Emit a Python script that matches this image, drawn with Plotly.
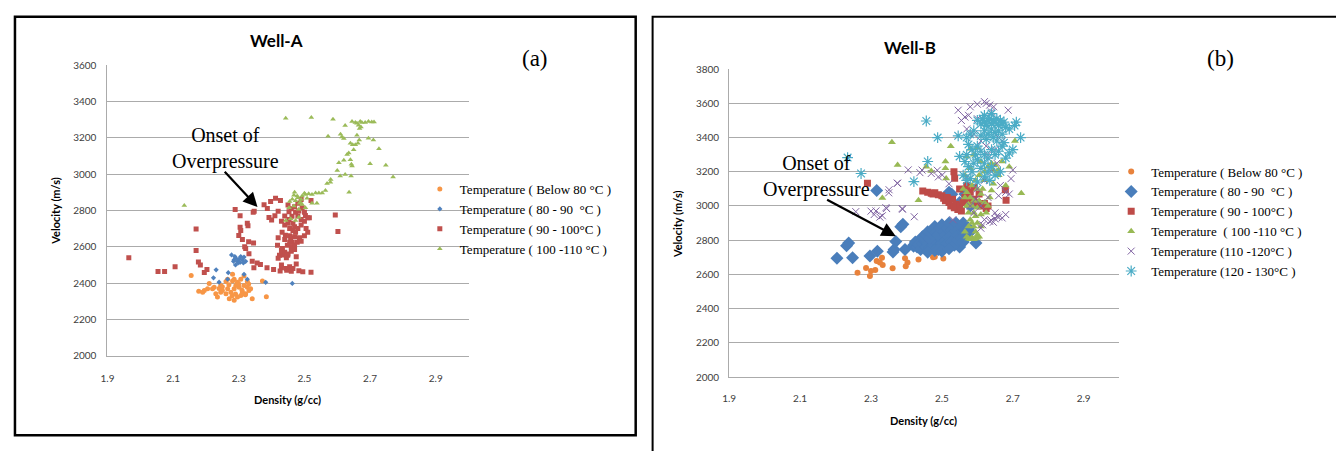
import plotly.graph_objects as go

W, H = 1336, 451

# ---------------- DATA ----------------
x_ticks = [1.9, 2.1, 2.3, 2.5, 2.7, 2.9]
x_tick_text = ["1.9", "2.1", "2.3", "2.5", "2.7", "2.9"]
ya_ticks = [2000, 2200, 2400, 2600, 2800, 3000, 3200, 3400, 3600]
yb_ticks = [2000, 2200, 2400, 2600, 2800, 3000, 3200, 3400, 3600, 3800]

legend_a = ["Temperature ( Below 80 °C )", "Temperature ( 80 - 90  °C )",
            "Temperature ( 90 - 100°C )", "Temperature ( 100 -110 °C )"]
legend_b = ["Temperature ( Below 80 °C )", "Temperature ( 80 - 90  °C )",
            "Temperature ( 90 - 100°C )", "Temperature  ( 100 -110 °C )",
            "Temperature (110 -120°C )", "Temperature (120 - 130°C )"]

# Well-A
a_t80_x = [2.155, 2.21, 2.178, 2.19, 2.205, 2.225, 2.235, 2.23, 2.245, 2.261, 2.266, 2.281, 2.286, 2.296,
           2.306, 2.316, 2.326, 2.331, 2.336, 2.321, 2.306, 2.296, 2.286, 2.271, 2.261, 2.276, 2.266, 2.25,
           2.286, 2.301, 2.311, 2.341, 2.384, 2.372, 2.281, 2.291, 2.316, 2.326, 2.245, 2.22, 2.195, 2.24,
           2.25, 2.3, 2.31, 2.27, 2.29, 2.32, 2.33, 2.28]
a_t80_y = [2441, 2398, 2355, 2350, 2368, 2377, 2323, 2341, 2386, 2409, 2421, 2448, 2421, 2405,
           2421, 2386, 2377, 2359, 2368, 2341, 2332, 2323, 2305, 2314, 2341, 2350, 2368, 2359,
           2368, 2377, 2350, 2314, 2325, 2412, 2412, 2386, 2439, 2409, 2350, 2368, 2359, 2370,
           2380, 2395, 2360, 2390, 2340, 2335, 2395, 2330]

a_t90_x = [2.278, 2.286, 2.291, 2.296, 2.301, 2.306, 2.311, 2.316, 2.298, 2.304, 2.321, 2.284, 2.288,
           2.314, 2.231, 2.223, 2.268, 2.316, 2.326, 2.382, 2.463, 2.266, 2.24, 2.29]
a_t90_y = [2555, 2529, 2537, 2520, 2532, 2546, 2529, 2543, 2511, 2514, 2520, 2520, 2546,
           2511, 2473, 2429, 2457, 2448, 2421, 2404, 2398, 2421, 2405, 2500]

a_t100_x = [1.965, 2.054, 2.074, 2.106, 2.170, 2.170, 2.177, 2.183, 2.203, 2.195,
            2.289, 2.304, 2.304, 2.306, 2.326, 2.328, 2.300, 2.311, 2.330, 2.345,
            2.344, 2.318, 2.321, 2.331, 2.341, 2.356, 2.346, 2.366, 2.386, 2.406,
            2.426, 2.446, 2.483, 2.430, 2.420, 2.435,
            2.377, 2.387, 2.397, 2.412, 2.427, 2.453, 2.347, 2.392, 2.400, 2.410, 2.420,
            2.440, 2.453, 2.462, 2.473, 2.483, 2.493, 2.503,
            2.432, 2.442, 2.458, 2.473, 2.418, 2.433, 2.448, 2.463, 2.478,
            2.424, 2.449, 2.594, 2.602,
            2.43, 2.44, 2.45, 2.465, 2.47, 2.48, 2.49, 2.50, 2.51, 2.505,
            2.42, 2.44, 2.455, 2.47, 2.485, 2.50, 2.49, 2.46,
            2.43, 2.44, 2.45, 2.445, 2.46, 2.47, 2.475,
            2.43, 2.445, 2.455, 2.46, 2.495, 2.465, 2.475,
            2.49, 2.45, 2.46, 2.47, 2.48, 2.52, 2.515, 2.50, 2.51, 2.52, 2.48, 2.49, 2.455, 2.465, 2.455, 2.47]
a_t100_y = [2540, 2463, 2463, 2490, 2698, 2580, 2516, 2500, 2475, 2458,
            2805, 2771, 2707, 2690, 2729, 2716, 2662, 2640, 2627, 2621,
            2790, 2600, 2590, 2562, 2520, 2510, 2484, 2502, 2484, 2475,
            2466, 2470, 2468, 2484, 2536, 2554,
            2832, 2811, 2850, 2867, 2855, 2793, 2796, 2761, 2748, 2771, 2795,
            2770, 2750, 2768, 2790, 2797, 2815, 2772,
            2680, 2663, 2645, 2680, 2608, 2590, 2608, 2625, 2625,
            2553, 2553, 2775, 2684,
            2740, 2720, 2730, 2730, 2710, 2700, 2720, 2740, 2760, 2700,
            2650, 2640, 2660, 2655, 2650, 2660, 2630, 2600,
            2580, 2570, 2560, 2540, 2575, 2585, 2545,
            2500, 2480, 2490, 2465, 2462, 2480, 2505,
            2860, 2830, 2810, 2820, 2840, 2855, 2760, 2790, 2680, 2460, 2770, 2750, 2700, 2690, 2625, 2610]

a_t110_x = [2.134, 2.443, 2.521, 2.587, 2.624, 2.572,
            2.645, 2.655, 2.66, 2.67, 2.675, 2.685, 2.695, 2.705, 2.712, 2.665, 2.672, 2.668,
            2.61, 2.614, 2.62, 2.66, 2.667, 2.695, 2.71, 2.727,
            2.64, 2.647, 2.655, 2.663, 2.65, 2.635, 2.63, 2.64, 2.643, 2.645, 2.62, 2.605, 2.70, 2.748, 2.77, 2.636,
            2.58, 2.569, 2.579, 2.60, 2.609, 2.624, 2.642,
            2.564, 2.554, 2.544, 2.534, 2.523, 2.513, 2.503, 2.493, 2.478, 2.468, 2.463, 2.473, 2.488, 2.508, 2.523, 2.538,
            2.443, 2.458, 2.473, 2.483, 2.453, 2.468, 2.483, 2.493, 2.503,
            2.48, 2.49, 2.50, 2.47, 2.455, 2.485]
a_t110_y = [2828, 3308, 3312, 3303, 3268, 3209,
            3290, 3285, 3280, 3290, 3285, 3285, 3290, 3288, 3288, 3270, 3260, 3252,
            3220, 3205, 3196, 3214, 3188, 3198, 3188, 3140,
            3170, 3162, 3162, 3170, 3134, 3116, 3108, 3080, 3054, 3045, 3077, 3063, 3058, 3049, 2985, 2901,
            2970, 2948, 2956, 3020, 2990, 2998, 2990,
            2910, 2896, 2896, 2896, 2888, 2892, 2888, 2880, 2880, 2884, 2862, 2853, 2844, 2867, 2840, 2840,
            2745, 2754, 2745, 2763, 2815, 2824, 2806, 2833, 2815,
            2870, 2860, 2895, 2900, 2850, 2840]

# Well-B
b_t80_x = [2.262, 2.286, 2.297, 2.312, 2.316, 2.331, 2.333, 2.361, 2.396, 2.403, 2.398, 2.434,
           2.475, 2.48, 2.504, 2.30, 2.325]
b_t80_y = [2609, 2638, 2590, 2626, 2679, 2698, 2655, 2636, 2695, 2670, 2647, 2687,
           2700, 2703, 2693, 2620, 2670]

b_t90_x = [2.204, 2.237, 2.231, 2.248, 2.297, 2.318, 2.316, 2.365, 2.362, 2.37, 2.384, 2.39, 2.396,
           2.42, 2.43, 2.44, 2.528, 2.52, 2.596, 2.55,
           2.42, 2.425, 2.43, 2.435, 2.44, 2.445, 2.45, 2.455, 2.46, 2.465, 2.47, 2.475, 2.48, 2.485,
           2.49, 2.495, 2.50, 2.445, 2.455, 2.46, 2.465, 2.47, 2.475, 2.48, 2.485, 2.49, 2.495, 2.50,
           2.505, 2.51, 2.515, 2.52, 2.525, 2.53, 2.535, 2.54, 2.545, 2.55, 2.555, 2.56, 2.565, 2.57,
           2.51, 2.52, 2.53, 2.54, 2.505, 2.515, 2.525, 2.535, 2.545, 2.555, 2.48, 2.49, 2.46, 2.50,
           2.52, 2.56, 2.575, 2.58, 2.58, 2.55, 2.565]
b_t90_y = [2695, 2784, 2768, 2698, 2708, 2736, 3090, 2746, 2731, 2793, 2878, 2893, 2746,
           2765, 2785, 2800, 3069, 3080, 2784, 2760,
           2770, 2790, 2760, 2775, 2745, 2780, 2800, 2760, 2780, 2750, 2800, 2770, 2820, 2790,
           2760, 2810, 2780, 2820, 2830, 2850, 2810, 2840, 2860, 2880, 2850, 2830, 2870, 2890,
           2850, 2830, 2870, 2900, 2860, 2840, 2880, 2900, 2860, 2840, 2880, 2900, 2860, 2830,
           2800, 2820, 2800, 2820, 2760, 2780, 2790, 2770, 2800, 2810, 2740, 2745, 2730, 2735,
           2750, 2790, 2870, 2850, 3000, 3020, 3070]

b_t100_x = [2.29, 2.446, 2.46, 2.47, 2.475, 2.48, 2.49, 2.50, 2.505, 2.51, 2.515, 2.52, 2.525, 2.53,
            2.535, 2.54, 2.545, 2.55, 2.555, 2.56, 2.565, 2.57, 2.575, 2.58, 2.59, 2.60, 2.61, 2.62,
            2.63, 2.625, 2.534, 2.536, 2.679, 2.681, 2.55, 2.57, 2.59, 2.605]
b_t100_y = [3133, 3088, 3080, 3075, 3070, 3078, 3065, 3060, 3045, 3030, 3050, 3020, 3000, 3040,
            2990, 3010, 2980, 3000, 2970, 3020, 3050, 3060, 3030, 3080, 3040, 3020, 3000, 3015,
            3000, 2985, 3200, 3162, 3095, 3034, 3100, 3120, 3110, 3070]

b_t110_x = [2.359, 2.375, 2.332, 2.434, 2.456, 2.47, 2.51, 2.51, 2.512, 2.525, 2.581, 2.706, 2.724,
            2.68, 2.69, 2.67, 2.66,
            2.56, 2.565, 2.57, 2.575, 2.58, 2.585, 2.59, 2.595, 2.60, 2.57, 2.575, 2.58, 2.585, 2.59,
            2.595, 2.60, 2.605, 2.58, 2.585, 2.59, 2.595, 2.60, 2.605, 2.61, 2.615, 2.62, 2.625, 2.63,
            2.635, 2.64, 2.645, 2.60, 2.61, 2.575, 2.565, 2.57, 2.585, 2.595, 2.605, 2.62, 2.63, 2.64,
            2.645, 2.65, 2.655, 2.66, 2.59, 2.60, 2.57, 2.61, 2.58, 2.565, 2.62, 2.61, 2.59, 2.575, 2.6]
b_t110_y = [3372, 3240, 3047, 3034, 3230, 3205, 3260, 3220, 3160, 3350, 3335, 3380, 3075,
            3120, 3230, 3260, 3210,
            3100, 3050, 3000, 2960, 2920, 2900, 2880, 2850, 2830, 2820, 2810, 2805, 2815, 2805,
            2810, 2815, 2820, 3050, 3000, 2960, 2940, 2990, 3030, 3070, 3100, 3020, 2960, 3000,
            3050, 3090, 3130, 2900, 2880, 2880, 2850, 3080, 3120, 3150, 3180, 3200, 3230, 3250,
            3210, 3240, 3200, 3180, 3300, 3340, 3290, 3260, 3220, 3180, 3150, 2950, 3030, 3010, 3100]

b_t120_x = [2.257, 2.30, 2.309, 2.325, 2.344, 2.35, 2.375, 2.388, 2.422, 2.405, 2.438, 2.444, 2.47,
            2.49, 2.52, 2.531, 2.546, 2.555, 2.58, 2.60, 2.62, 2.625, 2.635, 2.646, 2.687, 2.70,
            2.695, 2.69, 2.65, 2.655, 2.62, 2.635, 2.61, 2.615, 2.64, 2.645, 2.65, 2.66, 2.67, 2.68,
            2.314, 2.332, 2.342, 2.351, 2.374, 2.389, 2.487, 2.501, 2.57, 2.59, 2.61, 2.625, 2.63,
            2.65, 2.66, 2.67, 2.655, 2.64, 2.62, 2.60, 2.595, 2.61, 2.63, 2.665, 2.68, 2.66, 2.575,
            2.565, 2.6, 2.64, 2.655, 2.58, 2.59, 2.57]
b_t120_y = [2967, 2970, 2950, 2935, 2985, 3077, 3133, 2985, 2937, 3211, 3195, 3210, 3190,
            3170, 3130, 2920, 3560, 3500, 3580, 3595, 3610, 3600, 3590, 3580, 3560, 3210,
            3160, 3070, 2960, 2940, 2920, 2910, 2870, 2890, 2915, 2905, 2925, 2935, 2930, 2950,
            2971, 2943, 2990, 3095, 3133, 2981, 3209, 3181, 3450, 3420, 3380, 3350, 3300,
            3330, 3400, 3380, 3250, 3200, 3150, 3100, 3040, 3000, 3050, 3120, 3080, 3060, 3530,
            3520, 3510, 3550, 3480, 3000, 2960, 3170]

b_t130_x = [2.234, 2.272, 2.421, 2.456, 2.46, 2.488, 2.55, 2.546, 2.71, 2.705, 2.722, 2.70, 2.69,
            2.60, 2.61, 2.615, 2.62, 2.625, 2.63, 2.635, 2.64, 2.645, 2.65, 2.655, 2.66, 2.665, 2.67,
            2.675, 2.68, 2.62, 2.63, 2.64, 2.65, 2.66, 2.67, 2.61, 2.625, 2.645, 2.655, 2.67, 2.59,
            2.58, 2.57, 2.575, 2.585, 2.595, 2.60, 2.61, 2.62, 2.63, 2.64, 2.65, 2.66, 2.57, 2.565,
            2.575, 2.585, 2.59, 2.60, 2.61, 2.62, 2.63, 2.64, 2.65, 2.56, 2.57, 2.58, 2.60, 2.62,
            2.635, 2.665, 2.68, 2.675, 2.69, 2.62, 2.64]
b_t130_y = [3283, 3190, 3143, 3497, 3260, 3400, 3290, 3410, 3490, 3470, 3400, 3330, 3310,
            3500, 3480, 3510, 3490, 3470, 3500, 3510, 3480, 3500, 3490, 3510, 3470, 3500, 3480,
            3490, 3460, 3440, 3420, 3450, 3430, 3440, 3420, 3410, 3390, 3400, 3380, 3350, 3440,
            3420, 3400, 3360, 3330, 3300, 3350, 3320, 3300, 3280, 3330, 3300, 3320, 3300, 3260,
            3230, 3200, 3250, 3270, 3220, 3250, 3200, 3230, 3180, 3180, 3150, 3160, 3140, 3170,
            3150, 3200, 3280, 3370, 3450, 3530, 3540]

# ---------------- FIGURE ----------------
def px(x):
    return x / W


def py(y):
    return 1 - y / H


fig = go.Figure()

orange_a, blue_a, red_a, green_a = "#F79646", "#4F81BD", "#C0504D", "#9BBB59"
a_series = [
    (a_t80_x, a_t80_y, legend_a[0], dict(symbol="circle", size=5, color=orange_a)),
    (a_t90_x, a_t90_y, legend_a[1], dict(symbol="diamond", size=4, color=blue_a)),
    (a_t100_x, a_t100_y, legend_a[2], dict(symbol="square", size=5, color=red_a)),
    (a_t110_x, a_t110_y, legend_a[3], dict(symbol="triangle-up", size=5, color=green_a)),
]
for xs, ys, name, mk in a_series:
    fig.add_trace(go.Scatter(x=xs, y=ys, mode="markers", name=name, marker=mk,
                             xaxis="x", yaxis="y", legend="legend"))

b_series = [
    (b_t80_x, b_t80_y, legend_b[0], dict(symbol="circle", size=6, color="#E8823C")),
    (b_t90_x, b_t90_y, legend_b[1], dict(symbol="diamond", size=10, color="#4A7EBB")),
    (b_t100_x, b_t100_y, legend_b[2], dict(symbol="square", size=7, color="#BE4B48")),
    (b_t110_x, b_t110_y, legend_b[3], dict(symbol="triangle-up", size=7, color="#98B954")),
    (b_t120_x, b_t120_y, legend_b[4], dict(symbol="x-thin-open", size=7, color="#8064A2",
                                             line=dict(width=1, color="#8064A2"))),
    (b_t130_x, b_t130_y, legend_b[5], dict(symbol="asterisk-open", size=9, color="#4BACC6",
                                             line=dict(width=1.2, color="#4BACC6"))),
]
for xs, ys, name, mk in b_series:
    fig.add_trace(go.Scatter(x=xs, y=ys, mode="markers", name=name, marker=mk,
                             xaxis="x2", yaxis="y2", legend="legend2"))

tickfont = dict(family="Lato, Liberation Sans, sans-serif", size=10, color="#404040")
grid = "#ABABAB"

common_x = dict(range=[1.9, 3.0], tickvals=x_ticks, ticktext=x_tick_text, showgrid=False,
                zeroline=False, showline=True, linecolor=grid, linewidth=1.2,
                ticks="outside", tickcolor="rgba(0,0,0,0)", tickfont=tickfont, fixedrange=True)
common_y = dict(showgrid=True, gridcolor=grid, gridwidth=1.2, zeroline=False, showline=True,
                linecolor=grid, linewidth=1.2, ticks="outside", tickcolor="rgba(0,0,0,0)",
                tickfont=tickfont, fixedrange=True)

fig.update_layout(
    width=W, height=H, margin=dict(l=0, r=0, t=0, b=0),
    paper_bgcolor="white", plot_bgcolor="white", showlegend=True,
    xaxis=dict(domain=[px(101), px(464)], anchor="y", ticklen=13, **common_x),
    yaxis=dict(domain=[py(359), py(60)], anchor="x", range=[2000, 3600], tickvals=ya_ticks,
               ticklen=8, **common_y),
    xaxis2=dict(domain=[px(726), px(1118)], anchor="y2", ticklen=12, **common_x),
    yaxis2=dict(domain=[py(381), py(64)], anchor="x2", range=[2000, 3800], tickvals=yb_ticks,
                ticklen=7, **common_y),
    legend=dict(x=px(415), y=py(172), xanchor="left", yanchor="top",
                font=dict(family="Liberation Serif, Times New Roman, serif", size=13, color="black"),
                bgcolor="rgba(0,0,0,0)", tracegroupgap=0, itemsizing="trace"),
    legend2=dict(x=px(1110), y=py(154), xanchor="left", yanchor="top",
                 font=dict(family="Liberation Serif, Times New Roman, serif", size=13, color="black"),
                 bgcolor="rgba(0,0,0,0)", tracegroupgap=0, itemsizing="trace"),
)

# panel borders
fig.add_shape(type="rect", xref="paper", yref="paper", x0=px(8), x1=px(632), y0=py(441), y1=py(10),
              line=dict(color="black", width=2.5), fillcolor="rgba(0,0,0,0)")
fig.add_shape(type="rect", xref="paper", yref="paper", x0=px(649), x1=px(1345), y0=py(470), y1=py(10),
              line=dict(color="black", width=2), fillcolor="rgba(0,0,0,0)")

bold = "Lato, Liberation Sans, sans-serif"
serif = "Liberation Serif, Times New Roman, serif"


def label(text, x, y, size, family, angle=0, color="black"):
    fig.add_annotation(text=text, x=px(x), y=py(y), xref="paper", yref="paper",
                       xanchor="center", yanchor="middle", showarrow=False, textangle=angle,
                       font=dict(family=family, size=size, color=color))


label("<b>Well-A</b>", 271, 35, 17, bold)
label("<b>Well-B</b>", 908, 42, 17, bold)
label("(a)", 531, 53, 23, serif)
label("(b)", 1220, 53, 23, serif)
label("<b>Density (g/cc)</b>", 282, 404, 11, bold)
label("<b>Density (g/cc)</b>", 921, 426, 11, bold)
label("<b>Velocity (m/s)</b>", 49, 210, 11, bold, angle=-90)
label("<b>Velocity (m/s)</b>", 674, 223, 11, bold, angle=-90)

# Onset of Overpressure annotations with arrows
fig.add_annotation(text="Onset of<br>Overpressure", x=2.261, y=3142, xref="x", yref="y",
                   showarrow=False, font=dict(family=serif, size=20, color="black"))
fig.add_annotation(x=2.357, y=2819, ax=2.253, ay=3022, xref="x", yref="y", axref="x", ayref="y",
                   text="", showarrow=True, arrowhead=2, arrowsize=1.3, arrowwidth=2.2,
                   arrowcolor="black")
fig.add_annotation(text="Onset of<br>Overpressure", x=2.147, y=3173, xref="x2", yref="y2",
                   showarrow=False, font=dict(family=serif, size=20, color="black"))
fig.add_annotation(x=2.370, y=2823, ax=2.172, ay=3041, xref="x2", yref="y2", axref="x2", ayref="y2",
                   text="", showarrow=True, arrowhead=2, arrowsize=1.3, arrowwidth=2.2,
                   arrowcolor="black")

fig.write_html("out.html", config={"displayModeBar": False},
               post_script="document.body.style.margin='0';document.body.style.overflow='hidden';")
